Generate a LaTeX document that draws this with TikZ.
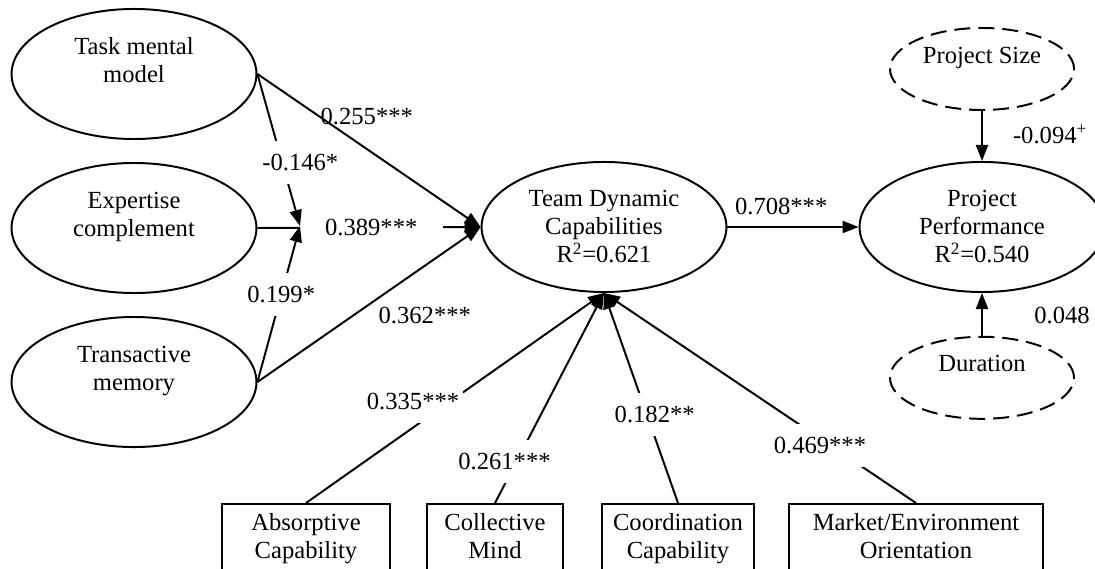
\documentclass[tikz,border=0pt]{standalone}
\usepackage{fontspec}
\setmainfont{Liberation Serif}
\usetikzlibrary{positioning, arrows.meta, shapes.geometric}

\begin{document}
\begin{tikzpicture}[x=0.025cm, y=-0.025cm, >={Triangle[length=0.4cm, width=0.3cm]}, line width=1.4pt,
  every node/.style={font=\fontsize{17.5}{19.9}\selectfont},
  latent/.style={draw, ellipse, inner sep=0pt, minimum width=6.12cm, minimum height=3.25cm, align=center},
  control/.style={latent, dash pattern=on 0.4cm off 0.2cm, minimum width=4.6cm, minimum height=2.05cm},
  indicator/.style={draw, rectangle, minimum height=2.3cm, inner sep=0pt, align=center},
  coef/.style={fill=white, inner xsep=0.1cm, inner ysep=0.33cm}]
  \useasboundingbox (0,0) rectangle (1095,569);
  \clip (0,0) rectangle (1095,569);
  % latent variables
  \node[latent] (task) at (134,74) {Task mental\\model\\\mbox{}};
  \node[latent, below=0.55cm of task] (exp) {Expertise\\complement\\\mbox{}};
  \node[latent, below=0.55cm of exp] (trans) {Transactive\\memory\\\mbox{}};
  \node[latent] (tdc) at (604,227) {Team Dynamic\\Capabilities\\R\textsuperscript{2}=0.621};
  \node[latent] (pp) at (982,227) {Project\\Performance\\R\textsuperscript{2}=0.540};
  \node[control, above=1.25cm of pp] (size) {Project Size\\\mbox{}};
  \node[control, below=1.07cm of pp] (dur) {Duration\\\mbox{}};
  % indicators
  \node[indicator, minimum width=4.2cm] (absorb) at (306,550) {Absorptive\\Capability\\\mbox{}};
  \node[indicator, minimum width=3.4cm] (mind) at (495,550) {Collective\\Mind\\\mbox{}};
  \node[indicator, minimum width=3.8cm] (coord) at (678,550) {Coordination\\Capability\\\mbox{}};
  \node[indicator, minimum width=6.33cm] (market) at (916,550) {Market/Environment\\Orientation\\\mbox{}};
  \coordinate (mod) at (300,226);
  % paths
  \draw[->] (task.east) -- node[pos=0.49, yshift=0.8cm] {0.255***} (tdc.west);
  \draw[->] (exp.east) -- node[coef, inner xsep=0.65cm, pos=0.51] {0.389***} (tdc.west);
  \draw[->] (trans.east) -- node[pos=0.75, yshift=-1.25cm] {0.362***} (tdc.west);
  \draw[->] (task.east) -- node[coef, pos=0.585, xshift=0.45cm] {-0.146*} (mod);
  \draw[->] (trans.east) -- node[coef, pos=0.56] {0.199*} (mod);
  \draw[->] (tdc.east) -- node[pos=0.41, yshift=0.5cm] {0.708***} (pp.west);
  \draw[->] (size.south) -- node[pos=0.46, xshift=1.7cm] {-0.094\textsuperscript{+}} (pp.north);
  \draw[->] (dur.north) -- node[pos=0.47, xshift=2cm] {0.048} (pp.south);
  \draw[->] (absorb.north) -- node[coef, pos=0.484, xshift=-0.93cm] {0.335***} (tdc.south);
  \draw[->] (mind.north) -- node[coef, pos=0.197, xshift=-0.3cm] {0.261***} (tdc.south);
  \draw[->] (coord.north) -- node[coef, pos=0.423, xshift=0.2cm] {0.182**} (tdc.south);
  \draw[->] (market.north) -- node[coef, pos=0.272, xshift=-0.28cm] {0.469***} (tdc.south);
\end{tikzpicture}
\end{document}
